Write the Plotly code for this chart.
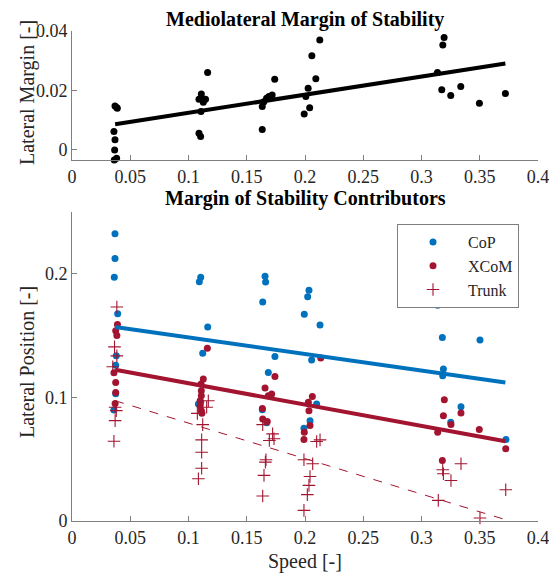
import plotly.graph_objects as go

# ---------------- data ----------------
speed_top = [0.0363, 0.0383, 0.0366, 0.0369, 0.0360, 0.0369, 0.0383, 0.0389,
             0.109, 0.111, 0.113, 0.1127, 0.1146, 0.1107, 0.109, 0.1104, 0.1164,
             0.1633, 0.1647, 0.167, 0.169, 0.1718, 0.174, 0.1633,
             0.1993, 0.2007, 0.2027, 0.204, 0.2059, 0.2093, 0.2127,
             0.3137, 0.3174, 0.3183, 0.3194, 0.3251, 0.3337, 0.3497, 0.372]
margin = [-0.0034, -0.0028, 0.0, 0.0034, 0.0062, 0.0148, 0.0143, 0.0140,
          0.017, 0.0188, 0.017, 0.016, 0.017, 0.0129, 0.0056, 0.0045, 0.026,
          0.0146, 0.0162, 0.0174, 0.018, 0.0185, 0.0238, 0.0069,
          0.0121, 0.018, 0.0207, 0.0142, 0.0317, 0.0239, 0.037,
          0.026, 0.0202, 0.0353, 0.0378, 0.0183, 0.0213, 0.0157, 0.019]

cop_speed = [0.0369, 0.0369, 0.0363, 0.0392, 0.038, 0.0375, 0.0375, 0.036,
             0.1105, 0.1093, 0.1165, 0.1122, 0.1105, 0.1085,
             0.1657, 0.1662, 0.1637, 0.1742, 0.1685, 0.1634, 0.1671,
             0.2034, 0.2023, 0.1994, 0.2129, 0.2057, 0.21, 0.2043, 0.1991,
             0.3139, 0.3179, 0.3188, 0.3182, 0.3339, 0.3251, 0.3502, 0.3725]
cop_pos = [0.2325, 0.2124, 0.1973, 0.1677, 0.1336, 0.126, 0.103, 0.0898,
           0.1973, 0.1935, 0.157, 0.1358, 0.096, 0.0947,
           0.1981, 0.1933, 0.1772, 0.1331, 0.1202, 0.0901, 0.0794,
           0.1866, 0.1815, 0.1673, 0.1586, 0.1302, 0.0947, 0.0812, 0.075,
           0.1745, 0.1484, 0.1229, 0.1175, 0.0925, 0.0798, 0.1465, 0.0659]

xcom_speed = [0.039, 0.0375, 0.0385, 0.036, 0.0375, 0.0375, 0.037,
              0.1162, 0.1127, 0.1108, 0.1110, 0.1110, 0.1100, 0.1100, 0.1110, 0.1115,
              0.1742, 0.1657, 0.1714, 0.1685, 0.1634, 0.1637, 0.1676,
              0.2135, 0.2063, 0.2029, 0.2034, 0.2043, 0.1994, 0.1991,
              0.3196, 0.3188, 0.3339, 0.3253, 0.3139, 0.3496, 0.3179, 0.3723]
xcom_pos = [0.159, 0.154, 0.150, 0.120, 0.112, 0.104, 0.095,
            0.1398, 0.1148, 0.1108, 0.1054, 0.1014, 0.0973, 0.0933, 0.0893, 0.0871,
            0.1169, 0.1076, 0.1027, 0.1014, 0.0911, 0.0826, 0.0806,
            0.1318, 0.1008, 0.096, 0.0893, 0.0772, 0.0718, 0.0659,
            0.0981, 0.0852, 0.0874, 0.078, 0.0718, 0.074, 0.049, 0.0584]

trunk_speed = [0.0385, 0.0365, 0.0385, 0.035, 0.037, 0.038, 0.037, 0.036,
               0.117, 0.1156, 0.1076, 0.1122, 0.1113, 0.1113, 0.1113, 0.1085,
               0.1637, 0.1722, 0.1734, 0.1694, 0.1665, 0.1660, 0.1648, 0.1637,
               0.2129, 0.21, 0.1991, 0.2066, 0.2043, 0.2034, 0.202, 0.1991,
               0.3339, 0.3182, 0.3188, 0.3253, 0.3144, 0.3502, 0.3723]
trunk_pos = [0.1731, 0.1409, 0.1336, 0.1248, 0.092, 0.0893, 0.0812, 0.0645,
             0.0973, 0.092, 0.0871, 0.078, 0.0656, 0.0556, 0.0427, 0.0342,
             0.078, 0.0705, 0.0665, 0.0651, 0.0495, 0.0476, 0.0369, 0.0202,
             0.0656, 0.0643, 0.0495, 0.0463, 0.036, 0.0288, 0.0213, 0.0086,
             0.0463, 0.0415, 0.0382, 0.0328, 0.0167, 0.0024, 0.0253]

fit_speed = [0.037, 0.372]
margin_fit = [0.0086, 0.0291]
cop_fit = [0.157, 0.112]
xcom_fit = [0.1223, 0.0645]
trunk_fit = [0.0973, 0.0011]

x_ticks = [0, 0.05, 0.1, 0.15, 0.2, 0.25, 0.3, 0.35, 0.4]
x_ticklabels = ["0", "0.05", "0.1", "0.15", "0.2", "0.25", "0.3", "0.35", "0.4"]
top_y_ticks = [0, 0.02, 0.04]
top_y_ticklabels = ["0", "0.02", "0.04"]
bot_y_ticks = [0, 0.1, 0.2]
bot_y_ticklabels = ["0", "0.1", "0.2"]

# ---------------- styling ----------------
W, H = 557, 573
OFF = 8  # page body margin offsets the figure in the browser
BLUE = "#0072BD"
RED = "#A2142F"
FONT = "Liberation Serif"
AX = "#7f7f7f"


def fx(p):
    return (p - OFF) / W


def fy(p):
    return 1 - (p - OFF) / H


fig = go.Figure()

# top plot
fig.add_trace(go.Scatter(x=speed_top, y=margin, mode="markers", xaxis="x", yaxis="y",
                         marker=dict(color="black", size=7), showlegend=False, cliponaxis=False))
fig.add_trace(go.Scatter(x=fit_speed, y=margin_fit, mode="lines", xaxis="x", yaxis="y",
                         line=dict(color="black", width=4), showlegend=False))

# bottom plot
fig.add_trace(go.Scatter(x=cop_speed, y=cop_pos, mode="markers", xaxis="x2", yaxis="y2",
                         name="CoP", marker=dict(color=BLUE, size=7), cliponaxis=False))
fig.add_trace(go.Scatter(x=xcom_speed, y=xcom_pos, mode="markers", xaxis="x2", yaxis="y2",
                         name="XCoM", marker=dict(color=RED, size=7), cliponaxis=False))
fig.add_trace(go.Scatter(x=trunk_speed, y=trunk_pos, mode="markers", xaxis="x2", yaxis="y2",
                         name="Trunk", cliponaxis=False,
                         marker=dict(symbol="cross-thin", size=9,
                                     line=dict(color=RED, width=1.1), color=RED)))
fig.add_trace(go.Scatter(x=fit_speed, y=cop_fit, mode="lines", xaxis="x2", yaxis="y2",
                         line=dict(color=BLUE, width=4), showlegend=False))
fig.add_trace(go.Scatter(x=fit_speed, y=xcom_fit, mode="lines", xaxis="x2", yaxis="y2",
                         line=dict(color=RED, width=4), showlegend=False))
fig.add_trace(go.Scatter(x=fit_speed, y=trunk_fit, mode="lines", xaxis="x2", yaxis="y2",
                         line=dict(color=RED, width=1, dash="dash"), showlegend=False))

xdom = [fx(72), fx(538)]
common = dict(showline=True, linecolor=AX, linewidth=1, ticks="inside", ticklen=5,
              tickcolor=AX, showgrid=False, zeroline=False, automargin=False,
              tickfont=dict(family=FONT, size=18, color="#262626"))

fig.update_layout(
    width=W, height=H,
    margin=dict(l=0, r=0, t=0, b=0, pad=0, autoexpand=False),
    paper_bgcolor="white", plot_bgcolor="white",
    font=dict(family=FONT, color="#262626"),
    xaxis=dict(domain=xdom, anchor="y", range=[0, 0.4], tickvals=x_ticks,
               ticktext=x_ticklabels, **common),
    yaxis=dict(domain=[fy(160), fy(31)], anchor="x", range=[-0.0034, 0.04],
               tickvals=top_y_ticks, ticktext=top_y_ticklabels, **common),
    xaxis2=dict(domain=xdom, anchor="y2", range=[0, 0.4], tickvals=x_ticks,
                ticktext=x_ticklabels, **common),
    yaxis2=dict(domain=[fy(521), fy(212)], anchor="x2", range=[0, 0.25],
                tickvals=bot_y_ticks, ticktext=bot_y_ticklabels, **common),
    legend=dict(x=fx(397), y=fy(224), xanchor="left", yanchor="top",
                bgcolor="white", bordercolor=AX, borderwidth=1,
                font=dict(family=FONT, size=16, color="#262626"), itemwidth=60),
)

ann = [
    dict(text="<b>Mediolateral Margin of Stability</b>", x=fx(305), y=fy(19)),
    dict(text="<b>Margin of Stability Contributors</b>", x=fx(305), y=fy(199)),
    dict(text="Speed [-]", x=fx(305), y=fy(561)),
    dict(text="Lateral Margin [-]", x=fx(27), y=fy(93), textangle=-90),
    dict(text="Lateral Position [-]", x=fx(27), y=fy(362), textangle=-90),
]
for a in ann:
    a.update(xref="paper", yref="paper", showarrow=False, xanchor="center", yanchor="middle",
             font=dict(family=FONT, size=20,
                       color="black" if "<b>" in a["text"] else "#262626"))
fig.update_layout(annotations=ann)

fig.write_html("out.html")
